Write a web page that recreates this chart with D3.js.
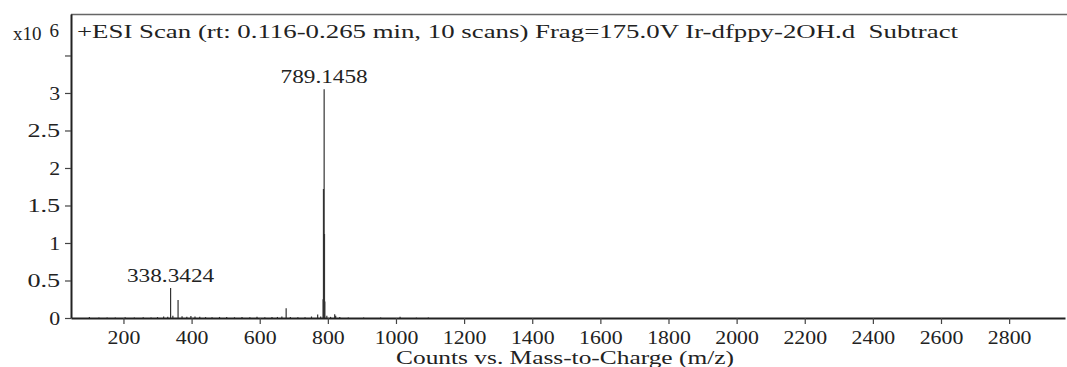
<!DOCTYPE html>
<html>
<head>
<meta charset="utf-8">
<script src="https://cdn.jsdelivr.net/npm/d3@7"></script>
<style>
  body { margin: 0; background: #fff; }
  svg text { font-family: "Liberation Serif", "DejaVu Serif", serif; fill: #222; }
</style>
</head>
<body>
<svg id="chart" width="1067" height="367"></svg>
<script>
// m/z and counts (x10^6) of the sticks
const peakMz = [100, 128, 152, 176, 205, 232, 258, 281, 300, 318, 330, 338.3424, 345, 360.3, 372, 386, 398, 410, 424, 441, 460, 482, 503, 526, 548, 571, 592, 615, 636, 652, 665, 677.6, 690, 712, 733, 752, 770.1, 779, 786.1, 787.14, 788.15, 789.1458, 790.15, 791.15, 797, 808, 820.1, 823, 835, 860, 905, 955, 1012, 1060, 1095];
const peakCounts = [0.012, 0.006, 0.008, 0.006, 0.01, 0.007, 0.009, 0.008, 0.012, 0.02, 0.015, 0.40, 0.03, 0.24, 0.022, 0.018, 0.025, 0.02, 0.015, 0.012, 0.01, 0.014, 0.012, 0.01, 0.013, 0.011, 0.015, 0.01, 0.012, 0.014, 0.02, 0.13, 0.012, 0.01, 0.009, 0.02, 0.045, 0.02, 0.25, 1.72, 0.55, 3.05, 1.12, 0.22, 0.03, 0.015, 0.05, 0.03, 0.012, 0.008, 0.006, 0.006, 0.018, 0.005, 0.005];

// labelled peaks
const labelMz = [338.3424, 789.1458];
const labelCounts = [0.40, 3.05];
const labelText = ["338.3424", "789.1458"];

const xTicks = [200, 400, 600, 800, 1000, 1200, 1400, 1600, 1800, 2000, 2200, 2400, 2600, 2800];
const yTicks = [0, 0.5, 1, 1.5, 2, 2.5, 3, 3.5];
const yTickLabels = ["0", "0.5", "1", "1.5", "2", "2.5", "3", ""];

const titleText = "+ESI Scan (rt: 0.116-0.265 min, 10 scans) Frag=175.0V Ir-dfppy-2OH.d  Subtract";
const xTitle = "Counts vs. Mass-to-Charge (m/z)";

const charW = 10.9; // the original font is monospaced
const fs = "19px";
const svg = d3.select("#chart");
const margin = { top: 14, left: 71, bottom: 49, right: 2 };
const width = 1067 - margin.left - margin.right;
const height = 367 - margin.top - margin.bottom;

const x = d3.scaleLinear().domain([46, 2964]).range([0, width]);
const y = d3.scaleLinear().domain([0, 4.053]).range([height, 0]);

const g = svg.append("g").attr("transform", `translate(${margin.left},${margin.top})`);

// top frame line
g.append("line")
  .attr("x1", 0).attr("x2", width + margin.right)
  .attr("y1", 0.5).attr("y2", 0.5)
  .attr("stroke", "#666").attr("stroke-width", 1.5);

// sticks
g.selectAll("line.peak")
  .data(peakMz.map((m, i) => ({ m, c: peakCounts[i] })))
  .join("line")
  .attr("class", "peak")
  .attr("x1", d => x(d.m)).attr("x2", d => x(d.m))
  .attr("y1", y(0)).attr("y2", d => y(d.c))
  .attr("stroke", "#333").attr("stroke-width", 1.2);

// axes
const xAxis = g.append("g")
  .attr("transform", `translate(0,${height})`)
  .call(d3.axisBottom(x).tickValues(xTicks).tickSize(6).tickSizeOuter(0).tickFormat(d3.format("d")));
const yAxis = g.append("g")
  .call(d3.axisLeft(y).tickValues(yTicks).tickSize(6).tickSizeOuter(0).tickFormat((d, i) => yTickLabels[i]));

[xAxis, yAxis].forEach(a => {
  a.select(".domain").attr("stroke", "#222").attr("stroke-width", 2);
  a.selectAll(".tick line").attr("stroke", "#444").attr("stroke-width", 1.2);
  a.selectAll(".tick text")
    .style("font-size", fs)
    .attr("fill", "#222")
    .attr("textLength", function() { return this.textContent.length * charW; })
    .attr("lengthAdjust", "spacingAndGlyphs");
});
xAxis.selectAll(".tick text").attr("dy", "0.88em");
yAxis.selectAll(".tick text").attr("dx", "-0.1em");

// peak labels
g.selectAll("text.plabel")
  .data(labelMz.map((m, i) => ({ m, c: labelCounts[i], t: labelText[i] })))
  .join("text")
  .attr("class", "plabel")
  .attr("x", d => x(d.m)).attr("y", d => y(d.c) - 6)
  .attr("text-anchor", "middle")
  .style("font-size", fs)
  .attr("textLength", d => d.t.length * charW)
  .attr("lengthAdjust", "spacingAndGlyphs")
  .text(d => d.t);

// title in the frame
g.append("text")
  .attr("x", 6).attr("y", 24)
  .style("font-size", fs)
  .style("white-space", "pre")
  .attr("textLength", 881)
  .attr("lengthAdjust", "spacingAndGlyphs")
  .text(titleText);

// y multiplier
const mult = svg.append("text").attr("x", 13).attr("y", 40).style("font-size", fs);
mult.append("tspan").text("x10");
mult.append("tspan").attr("dx", 8).attr("dy", -3).text("6");

// x axis title
svg.append("text")
  .attr("x", margin.left + width / 2 - 3).attr("y", 364)
  .attr("text-anchor", "middle")
  .style("font-size", fs)
  .attr("textLength", xTitle.length * charW)
  .attr("lengthAdjust", "spacingAndGlyphs")
  .text(xTitle);
</script>
</body>
</html>
